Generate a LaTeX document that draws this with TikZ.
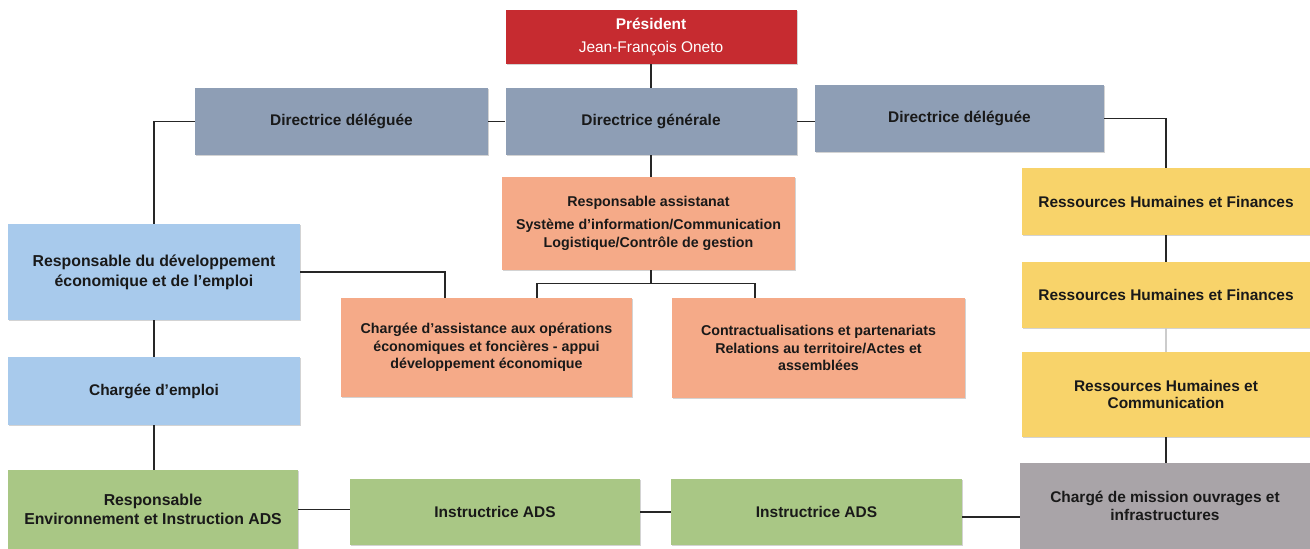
\documentclass[tikz,border=0pt]{standalone}
\usepackage{fontspec}
\setmainfont{Liberation Sans}
\usepackage{xcolor}
\usepackage{tikz}
\usetikzlibrary{shadows}
\definecolor{presred}{HTML}{C62B30}
\definecolor{dirgray}{HTML}{8E9EB5}
\definecolor{assalmon}{HTML}{F5AA88}
\definecolor{devblue}{HTML}{A8CAEC}
\definecolor{adsgreen}{HTML}{A9C785}
\definecolor{rhyellow}{HTML}{F8D36A}
\definecolor{misgray}{HTML}{A9A4A8}
\tikzstyle{orgbox} = [rectangle, minimum width=5.82cm, align=center, text=black!90, font=\bfseries\fontsize{8.8}{10}\selectfont, drop shadow={shadow xshift=0.6pt, shadow yshift=-0.8pt, opacity=0.35}]
\tikzstyle{small} = [font=\bfseries\fontsize{8.1}{10}\selectfont]
\tikzstyle{link} = [line width=0.6pt, black!85]

\begin{document}
\begin{tikzpicture}
      \useasboundingbox (0,0) rectangle (26.2,-10.98);

      % Direction
      \node[orgbox, fill=presred, text=white, minimum height=1.08cm, font=\fontsize{8.8}{13}\selectfont] (pres) at (13.02,-0.74) {\textbf{Président}\\Jean-François Oneto};
      \node[orgbox, fill=dirgray, minimum height=1.34cm] (dg) at (13.02,-2.43) {Directrice générale};
      \node[orgbox, fill=dirgray, minimum width=5.86cm, minimum height=1.34cm] (ddl) at (6.83,-2.43) {Directrice déléguée};
      \node[orgbox, fill=dirgray, minimum width=5.78cm, minimum height=1.34cm] (ddr) at (19.19,-2.37) {Directrice déléguée};

      % Assistanat
      \node[orgbox, small, fill=assalmon, minimum width=5.86cm, minimum height=1.86cm] (ra) at (12.97,-4.47) {Responsable assistanat\\[3pt]Système d'information/Communication\\Logistique/Contrôle de gestion};
      \node[orgbox, small, fill=assalmon, minimum height=1.98cm] (ca) at (9.73,-6.95) {Chargée d'assistance aux opérations\\économiques et foncières - appui\\développement économique};
      \node[orgbox, small, fill=assalmon, minimum width=5.86cm, minimum height=2.0cm] (ct) at (16.37,-6.96) {Contractualisations et partenariats\\Relations au territoire/Actes et\\assemblées};

      % Developpement
      \node[orgbox, fill=devblue, minimum width=5.84cm, minimum height=1.92cm, font=\bfseries\fontsize{9}{11.3}\selectfont] (rd) at (3.08,-5.44) {Responsable du développement\\économique et de l’emploi};
      \node[orgbox, fill=devblue, minimum width=5.84cm, minimum height=1.36cm] (ce) at (3.08,-7.82) {Chargée d’emploi};

      % ADS
      \node[orgbox, fill=adsgreen, minimum width=5.8cm, minimum height=1.58cm, font=\bfseries\fontsize{9}{10.5}\selectfont] (re) at (3.06,-10.19) {Responsable\\Environnement et Instruction ADS};
      \node[orgbox, fill=adsgreen, minimum width=5.8cm, minimum height=1.32cm] (ia) at (9.90,-10.24) {Instructrice ADS};
      \node[orgbox, fill=adsgreen, minimum height=1.32cm] (ib) at (16.33,-10.24) {Instructrice ADS};

      % Ressources humaines
      \node[orgbox, fill=rhyellow, minimum width=5.76cm, minimum height=1.34cm] (rha) at (23.32,-4.03) {Ressources Humaines et Finances};
      \node[orgbox, fill=rhyellow, minimum width=5.76cm, minimum height=1.32cm] (rhb) at (23.32,-5.90) {Ressources Humaines et Finances};
      \node[orgbox, fill=rhyellow, minimum width=5.76cm, minimum height=1.70cm] (rhc) at (23.32,-7.89) {Ressources Humaines et\\Communication};
      \node[orgbox, fill=misgray, minimum width=5.8cm, minimum height=1.72cm] (cm) at (23.30,-10.12) {Chargé de mission ouvrages et\\infrastructures};

      % Links
      \draw[link] (pres.south) -- (dg.north);
      \draw[link] (ddl.east) -- (dg.west);
      \draw[link] (dg.east) -- (dg.east -| ddr.west);
      \draw[link] (ddl.west) -| (rd.north);
      \draw[link] (ddr.east) -| (rha.north);
      \draw[link] (dg.south) -- (dg.south |- ra.north);
      \draw[link] (ra.south -| dg.south) -- ++(0,-0.26) coordinate (rasplit) -| ([xshift=1.01cm]ca.north);
      \draw[link] (rasplit) -| ([xshift=-1.27cm]ct.north);
      \draw[link] (rd.east) -| ([xshift=-0.83cm]ca.north);
      \draw[link] (rd.south) -- (ce.north);
      \draw[link] (ce.south) -- (ce.south |- re.north);
      \draw[link] (re.east) -- (re.east -| ia.west);
      \draw[link] (ia.east) -- (ib.west);
      \draw[link] ([yshift=-0.1cm]ib.east) -- ([yshift=-0.1cm]ib.east -| cm.west);
      \draw[link] (rha.south) -- (rhb.north);
      \draw[link, black!20] (rhb.south) -- (rhc.north);
      \draw[link] (rhc.south) -- (rhc.south |- cm.north);
    \end{tikzpicture}
\end{document}
